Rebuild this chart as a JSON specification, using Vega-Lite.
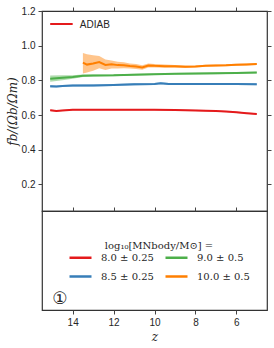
{
  "$schema": "https://vega.github.io/schema/vega-lite/v6.json",
  "padding": {"left": 5, "top": 5, "right": 0, "bottom": 0},
  "spacing": 0,
  "bounds": "flush",
  "config": {
    "view": {"stroke": "#333333", "strokeWidth": 1.2},
    "axis": {"domain": false, "grid": false, "tickColor": "#444444", "tickSize": 4, "tickWidth": 1, "labelFont": "Liberation Sans", "labelFontSize": 10, "labelColor": "#262626", "titleFont": "DejaVu Serif", "titleFontWeight": "normal", "titleColor": "#262626"}
  },
  "datasets": {
    "lines": [
      {"z": 15.1, "m": "8.0 ± 0.25", "f": 0.628, "lo": 0.624, "hi": 0.632},
      {"z": 14.8, "m": "8.0 ± 0.25", "f": 0.624, "lo": 0.620, "hi": 0.628},
      {"z": 14.5, "m": "8.0 ± 0.25", "f": 0.627, "lo": 0.623, "hi": 0.631},
      {"z": 14.0, "m": "8.0 ± 0.25", "f": 0.630, "lo": 0.626, "hi": 0.634},
      {"z": 13.5, "m": "8.0 ± 0.25", "f": 0.631, "lo": 0.627, "hi": 0.635},
      {"z": 13.0, "m": "8.0 ± 0.25", "f": 0.630, "lo": 0.626, "hi": 0.634},
      {"z": 12.0, "m": "8.0 ± 0.25", "f": 0.630, "lo": 0.626, "hi": 0.634},
      {"z": 11.0, "m": "8.0 ± 0.25", "f": 0.630, "lo": 0.626, "hi": 0.634},
      {"z": 10.0, "m": "8.0 ± 0.25", "f": 0.630, "lo": 0.626, "hi": 0.634},
      {"z": 9.0, "m": "8.0 ± 0.25", "f": 0.629, "lo": 0.625, "hi": 0.633},
      {"z": 8.0, "m": "8.0 ± 0.25", "f": 0.627, "lo": 0.623, "hi": 0.631},
      {"z": 7.5, "m": "8.0 ± 0.25", "f": 0.625, "lo": 0.621, "hi": 0.629},
      {"z": 7.0, "m": "8.0 ± 0.25", "f": 0.623, "lo": 0.619, "hi": 0.627},
      {"z": 6.5, "m": "8.0 ± 0.25", "f": 0.620, "lo": 0.616, "hi": 0.624},
      {"z": 6.0, "m": "8.0 ± 0.25", "f": 0.616, "lo": 0.612, "hi": 0.620},
      {"z": 5.5, "m": "8.0 ± 0.25", "f": 0.611, "lo": 0.607, "hi": 0.615},
      {"z": 5.0, "m": "8.0 ± 0.25", "f": 0.606, "lo": 0.602, "hi": 0.610},
      {"z": 15.1, "m": "8.5 ± 0.25", "f": 0.766, "lo": 0.759, "hi": 0.773},
      {"z": 14.8, "m": "8.5 ± 0.25", "f": 0.765, "lo": 0.759, "hi": 0.771},
      {"z": 14.5, "m": "8.5 ± 0.25", "f": 0.768, "lo": 0.762, "hi": 0.774},
      {"z": 14.0, "m": "8.5 ± 0.25", "f": 0.770, "lo": 0.764, "hi": 0.776},
      {"z": 13.0, "m": "8.5 ± 0.25", "f": 0.771, "lo": 0.765, "hi": 0.777},
      {"z": 12.0, "m": "8.5 ± 0.25", "f": 0.773, "lo": 0.767, "hi": 0.779},
      {"z": 11.0, "m": "8.5 ± 0.25", "f": 0.777, "lo": 0.771, "hi": 0.783},
      {"z": 10.0, "m": "8.5 ± 0.25", "f": 0.779, "lo": 0.773, "hi": 0.785},
      {"z": 9.7, "m": "8.5 ± 0.25", "f": 0.783, "lo": 0.777, "hi": 0.789},
      {"z": 9.3, "m": "8.5 ± 0.25", "f": 0.779, "lo": 0.773, "hi": 0.785},
      {"z": 8.0, "m": "8.5 ± 0.25", "f": 0.779, "lo": 0.773, "hi": 0.785},
      {"z": 7.0, "m": "8.5 ± 0.25", "f": 0.779, "lo": 0.773, "hi": 0.785},
      {"z": 6.0, "m": "8.5 ± 0.25", "f": 0.779, "lo": 0.773, "hi": 0.785},
      {"z": 5.0, "m": "8.5 ± 0.25", "f": 0.778, "lo": 0.772, "hi": 0.784},
      {"z": 15.1, "m": "9.0 ± 0.5", "f": 0.810, "lo": 0.792, "hi": 0.828},
      {"z": 14.5, "m": "9.0 ± 0.5", "f": 0.815, "lo": 0.801, "hi": 0.829},
      {"z": 14.0, "m": "9.0 ± 0.5", "f": 0.820, "lo": 0.810, "hi": 0.830},
      {"z": 13.5, "m": "9.0 ± 0.5", "f": 0.827, "lo": 0.820, "hi": 0.834},
      {"z": 13.0, "m": "9.0 ± 0.5", "f": 0.828, "lo": 0.822, "hi": 0.834},
      {"z": 12.0, "m": "9.0 ± 0.5", "f": 0.829, "lo": 0.824, "hi": 0.834},
      {"z": 11.0, "m": "9.0 ± 0.5", "f": 0.833, "lo": 0.828, "hi": 0.838},
      {"z": 10.0, "m": "9.0 ± 0.5", "f": 0.836, "lo": 0.831, "hi": 0.841},
      {"z": 9.0, "m": "9.0 ± 0.5", "f": 0.838, "lo": 0.833, "hi": 0.843},
      {"z": 8.0, "m": "9.0 ± 0.5", "f": 0.839, "lo": 0.834, "hi": 0.844},
      {"z": 7.0, "m": "9.0 ± 0.5", "f": 0.841, "lo": 0.836, "hi": 0.846},
      {"z": 6.0, "m": "9.0 ± 0.5", "f": 0.843, "lo": 0.838, "hi": 0.848},
      {"z": 5.0, "m": "9.0 ± 0.5", "f": 0.845, "lo": 0.840, "hi": 0.850},
      {"z": 13.5, "m": "10.0 ± 0.5", "f": 0.902, "lo": 0.840, "hi": 0.958},
      {"z": 13.3, "m": "10.0 ± 0.5", "f": 0.891, "lo": 0.845, "hi": 0.950},
      {"z": 13.0, "m": "10.0 ± 0.5", "f": 0.897, "lo": 0.855, "hi": 0.945},
      {"z": 12.7, "m": "10.0 ± 0.5", "f": 0.906, "lo": 0.870, "hi": 0.940},
      {"z": 12.4, "m": "10.0 ± 0.5", "f": 0.889, "lo": 0.860, "hi": 0.920},
      {"z": 12.1, "m": "10.0 ± 0.5", "f": 0.893, "lo": 0.868, "hi": 0.915},
      {"z": 11.8, "m": "10.0 ± 0.5", "f": 0.888, "lo": 0.868, "hi": 0.908},
      {"z": 11.5, "m": "10.0 ± 0.5", "f": 0.887, "lo": 0.870, "hi": 0.904},
      {"z": 11.2, "m": "10.0 ± 0.5", "f": 0.883, "lo": 0.868, "hi": 0.898},
      {"z": 10.9, "m": "10.0 ± 0.5", "f": 0.880, "lo": 0.866, "hi": 0.894},
      {"z": 10.6, "m": "10.0 ± 0.5", "f": 0.874, "lo": 0.862, "hi": 0.887},
      {"z": 10.3, "m": "10.0 ± 0.5", "f": 0.886, "lo": 0.875, "hi": 0.897},
      {"z": 10.0, "m": "10.0 ± 0.5", "f": 0.884, "lo": 0.874, "hi": 0.894},
      {"z": 9.5, "m": "10.0 ± 0.5", "f": 0.882, "lo": 0.873, "hi": 0.891},
      {"z": 9.0, "m": "10.0 ± 0.5", "f": 0.881, "lo": 0.873, "hi": 0.889},
      {"z": 8.5, "m": "10.0 ± 0.5", "f": 0.879, "lo": 0.872, "hi": 0.886},
      {"z": 8.0, "m": "10.0 ± 0.5", "f": 0.880, "lo": 0.874, "hi": 0.886},
      {"z": 7.5, "m": "10.0 ± 0.5", "f": 0.884, "lo": 0.878, "hi": 0.890},
      {"z": 7.0, "m": "10.0 ± 0.5", "f": 0.886, "lo": 0.880, "hi": 0.892},
      {"z": 6.5, "m": "10.0 ± 0.5", "f": 0.887, "lo": 0.881, "hi": 0.893},
      {"z": 6.0, "m": "10.0 ± 0.5", "f": 0.890, "lo": 0.884, "hi": 0.896},
      {"z": 5.5, "m": "10.0 ± 0.5", "f": 0.892, "lo": 0.886, "hi": 0.898},
      {"z": 5.0, "m": "10.0 ± 0.5", "f": 0.894, "lo": 0.888, "hi": 0.900}
    ]
  },
  "vconcat": [
    {
      "width": 225,
      "height": 200,
      "data": {"name": "lines"},
      "resolve": {"axis": {"x": "independent", "y": "independent"}},
      "layer": [
        {
          "mark": {"type": "area", "opacity": 0.45},
          "encoding": {
            "x": {"field": "z", "type": "quantitative", "scale": {"domain": [4.5, 15.5], "reverse": true, "nice": false, "zero": false}, "axis": {"orient": "top", "labels": false, "title": null, "values": [6, 8, 10, 12, 14]}},
            "y": {"field": "lo", "type": "quantitative", "scale": {"domain": [0.047, 1.2], "nice": false, "zero": false}, "axis": {"orient": "left", "values": [0.2, 0.4, 0.6, 0.8, 1.0, 1.2], "format": ".1f", "title": "fb/(Ωb/Ωm)", "titleFontStyle": "italic", "titleFontSize": 12, "titlePadding": 2, "labelPadding": 3}},
            "y2": {"field": "hi"},
            "color": {"field": "m", "type": "nominal", "scale": {"domain": ["8.0 ± 0.25", "8.5 ± 0.25", "9.0 ± 0.5", "10.0 ± 0.5"], "range": ["#e41a1c", "#377eb8", "#4daf4a", "#ff7f00"]}, "legend": null}
          }
        },
        {
          "mark": {"type": "line", "strokeWidth": 2},
          "encoding": {
            "x": {"field": "z", "type": "quantitative", "axis": null},
            "y": {"field": "f", "type": "quantitative", "axis": {"orient": "right", "labels": false, "title": null, "values": [0.2, 0.4, 0.6, 0.8, 1.0, 1.2]}},
            "color": {"field": "m", "type": "nominal", "legend": null}
          }
        },
        {
          "data": {"values": [{}]},
          "mark": {"type": "rule", "color": "#e41a1c", "strokeWidth": 2},
          "encoding": {"x": {"datum": 15.1, "axis": null}, "x2": {"datum": 14.0}, "y": {"datum": 1.125, "axis": null}}
        },
        {
          "data": {"values": [{}]},
          "mark": {"type": "text", "align": "left", "baseline": "middle", "font": "Liberation Sans", "fontSize": 10, "color": "#262626"},
          "encoding": {"x": {"datum": 13.65, "axis": null}, "y": {"datum": 1.122, "axis": null}, "text": {"value": "ADIAB"}}
        }
      ]
    },
    {
      "width": 225,
      "height": 99,
      "resolve": {"axis": {"x": "independent"}},
      "layer": [
        {
          "data": {"name": "lines"},
          "transform": [{"filter": "false"}],
          "mark": {"type": "line", "strokeWidth": 2},
          "encoding": {
            "x": {"field": "z", "type": "quantitative", "scale": {"domain": [4.5, 15.5], "reverse": true, "nice": false, "zero": false}, "axis": {"orient": "bottom", "values": [6, 8, 10, 12, 14], "format": "d", "title": "z", "titleFontStyle": "italic", "titleFontSize": 12, "labelPadding": 3, "titlePadding": 4}},
            "y": {"field": "f", "type": "quantitative", "scale": {"domain": [0, 1]}, "axis": null},
            "color": {
              "field": "m", "type": "nominal",
              "scale": {"domain": ["8.0 ± 0.25", "8.5 ± 0.25", "9.0 ± 0.5", "10.0 ± 0.5"], "range": ["#e41a1c", "#377eb8", "#4daf4a", "#ff7f00"]},
              "legend": {"title": "log₁₀[MNbody/M⊙] =", "orient": "none", "legendX": 26, "legendY": 30, "columns": 2, "columnPadding": 6, "rowPadding": 1, "symbolType": "stroke", "symbolSize": 484, "symbolStrokeWidth": 2.5, "labelFont": "DejaVu Serif", "labelFontSize": 10, "labelColor": "#262626", "labelOffset": 8, "titleFont": "DejaVu Serif", "titleFontSize": 10, "titleFontWeight": "normal", "titleColor": "#262626", "titleAnchor": "middle", "titlePadding": -6}
            }
          }
        },
        {
          "data": {"values": [{}]},
          "mark": {"type": "text", "font": "DejaVu Sans", "fontSize": 17, "color": "#262626", "baseline": "middle"},
          "encoding": {"x": {"datum": 14.63, "axis": {"orient": "top", "labels": false, "title": null, "values": [6, 8, 10, 12, 14]}}, "y": {"datum": 0.11}, "text": {"value": "①"}}
        }
      ]
    }
  ],
  "resolve": {"scale": {"color": "independent"}, "legend": {"color": "independent"}}
}
